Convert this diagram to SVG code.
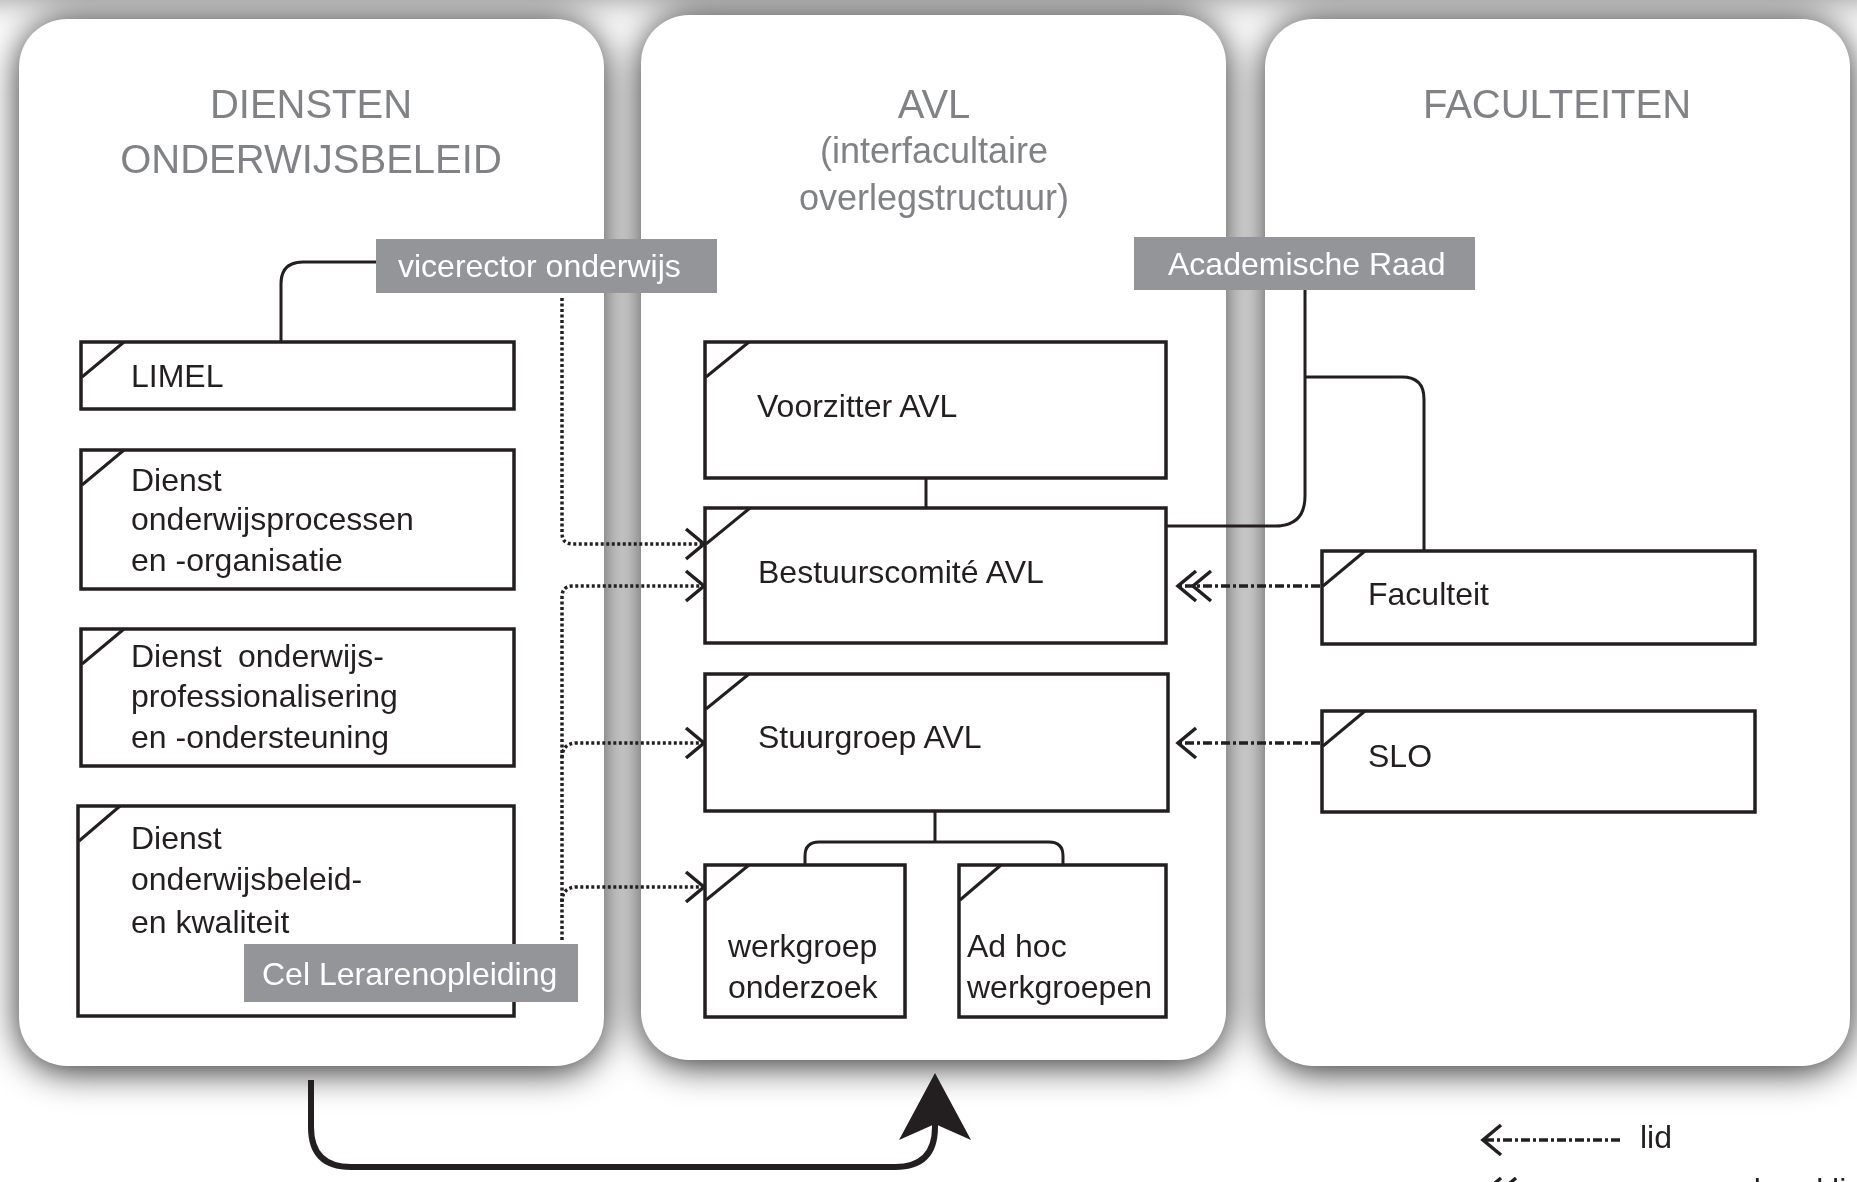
<svg xmlns="http://www.w3.org/2000/svg" width="1857" height="1182" viewBox="0 0 1857 1182">
<defs>
<filter id="sh" x="-20%" y="-20%" width="140%" height="140%">
<feGaussianBlur stdDeviation="18"/>
<feOffset dy="5"/>
</filter>
<marker id="chev" viewBox="-24 -18 28 36" refX="0" refY="0" markerWidth="28" markerHeight="36" markerUnits="userSpaceOnUse" orient="auto">
<path d="M -18 -15 L 0 0 L -18 15" fill="none" stroke="#231f20" stroke-width="3.5"/>
</marker>
<marker id="chev2" viewBox="-38 -18 42 36" refX="0" refY="0" markerWidth="42" markerHeight="36" markerUnits="userSpaceOnUse" orient="auto">
<path d="M -18 -15 L 0 0 L -18 15 M -33 -15 L -15 0 L -33 15" fill="none" stroke="#231f20" stroke-width="3.5"/>
</marker>
<style>
.panel{fill:#fff}
.shadow{fill:#000;opacity:.85}
.title{font-family:"Liberation Sans",Arial,sans-serif;fill:#808285;text-anchor:middle}
.box{fill:#fff;stroke:#231f20;stroke-width:3.5}
.tick{stroke:#231f20;stroke-width:3;fill:none}
.t{font-family:"Liberation Sans",Arial,sans-serif;font-size:32px;fill:#231f20}
.lab{fill:#939598}
.labt{font-family:"Liberation Sans",Arial,sans-serif;font-size:32px;fill:#fff}
.solid{fill:none;stroke:#231f20;stroke-width:3}
.dot{fill:none;stroke:#231f20;stroke-width:3.5;stroke-dasharray:3 2.5}
.dash{fill:none;stroke:#231f20;stroke-width:3.5;stroke-dasharray:9 3 3 3}
</style>
</defs>
<rect x="0" y="0" width="1857" height="1182" fill="#fff"/>
<g id="shadows" filter="url(#sh)">
<rect class="shadow" x="19" y="17" width="585" height="1049" rx="50"/>
<rect class="shadow" x="641" y="13" width="585" height="1047" rx="50"/>
<rect class="shadow" x="1265" y="17" width="585" height="1049" rx="50"/>
<rect class="shadow" x="-60" y="-60" width="2000" height="52" style="opacity:.5"/>
</g>
<g id="panel-diensten">
<rect class="panel" x="19" y="19" width="585" height="1047" rx="48"/>
<text class="title" font-size="40" x="311" y="118">DIENSTEN</text>
<text class="title" font-size="40" x="311" y="173">ONDERWIJSBELEID</text>
</g>
<g id="panel-avl">
<rect class="panel" x="641" y="15" width="585" height="1045" rx="48"/>
<text class="title" font-size="40" x="934" y="118">AVL</text>
<text class="title" font-size="36" x="934" y="163">(interfacultaire</text>
<text class="title" font-size="36" x="934" y="210">overlegstructuur)</text>
</g>
<g id="panel-faculteiten">
<rect class="panel" x="1265" y="19" width="585" height="1047" rx="48"/>
<text class="title" font-size="40" x="1557" y="118">FACULTEITEN</text>
</g>
<g id="connectors">
<path class="solid" d="M 377 262 H 303 Q 281 262 281 284 V 341"/>
<path class="solid" d="M 1305 290 V 496 Q 1305 526 1275 526 H 1166"/>
<path class="solid" d="M 1305 377 H 1402 Q 1424 377 1424 399 V 550"/>
<path class="solid" d="M 926 478 V 507"/>
<path class="solid" d="M 935 811 V 842 M 805 864 V 856 Q 805 842 819 842 H 1049 Q 1063 842 1063 856 V 864"/>
<path class="dot" d="M 562 298 V 533 Q 562 544 573 544 H 704" marker-end="url(#chev)"/>
<path class="dot" d="M 562 940 V 597 Q 562 586 573 586 H 704" marker-end="url(#chev)"/>
<path class="dot" d="M 562 758 Q 562 743 577 743 H 704" marker-end="url(#chev)"/>
<path class="dot" d="M 562 902 Q 562 887 577 887 H 704" marker-end="url(#chev)"/>
<path class="dash" d="M 1320 586 H 1178" marker-end="url(#chev2)"/>
<path class="dash" d="M 1320 743 H 1178" marker-end="url(#chev)"/>
<path d="M 311 1080 V 1127 Q 311 1167 351 1167 H 895 Q 935 1167 935 1127 V 1124" fill="none" stroke="#231f20" stroke-width="6"/>
<path d="M 935 1073 L 971 1140 L 935 1124 L 899 1140 Z" fill="#231f20"/>
</g>
<g id="vicerector">
<rect class="lab" x="376" y="239" width="341" height="54"/>
<text class="labt" x="398" y="277">vicerector onderwijs</text>
</g>
<g id="academische-raad">
<rect class="lab" x="1134" y="237" width="341" height="53"/>
<text class="labt" x="1168" y="275">Academische Raad</text>
</g>
<g id="limel">
<rect class="box" x="81" y="342" width="433" height="67"/>
<path class="tick" d="M 82 377 L 124 342"/>
<text class="t" x="131" y="387">LIMEL</text>
</g>
<g id="dienst-processen">
<rect class="box" x="81" y="450" width="433" height="139"/>
<path class="tick" d="M 82 485 L 124 450"/>
<text class="t" x="131" y="491">Dienst</text>
<text class="t" x="131" y="530">onderwijsprocessen</text>
<text class="t" x="131" y="571">en -organisatie</text>
</g>
<g id="dienst-professionalisering">
<rect class="box" x="81" y="629" width="433" height="137"/>
<path class="tick" d="M 82 664 L 124 629"/>
<text class="t" x="131" y="667">Dienst<tspan x="238">onderwijs-</tspan></text>
<text class="t" x="131" y="707">professionalisering</text>
<text class="t" x="131" y="748">en -ondersteuning</text>
</g>
<g id="dienst-kwaliteit">
<rect class="box" x="78" y="806" width="436" height="210"/>
<path class="tick" d="M 79 841 L 120 806"/>
<text class="t" x="131" y="849">Dienst</text>
<text class="t" x="131" y="890">onderwijsbeleid-</text>
<text class="t" x="131" y="933">en kwaliteit</text>
</g>
<g id="cel-lerarenopleiding">
<rect class="lab" x="244" y="944" width="334" height="58"/>
<text class="labt" x="262" y="985">Cel Lerarenopleiding</text>
</g>
<g id="voorzitter">
<rect class="box" x="705" y="342" width="461" height="136"/>
<path class="tick" d="M 706 377 L 749 342"/>
<text class="t" x="757" y="417">Voorzitter AVL</text>
</g>
<g id="bestuurscomite">
<rect class="box" x="705" y="508" width="461" height="135"/>
<path class="tick" d="M 706 544 L 750 508"/>
<text class="t" x="758" y="583">Bestuurscomité AVL</text>
</g>
<g id="stuurgroep">
<rect class="box" x="705" y="674" width="463" height="137"/>
<path class="tick" d="M 706 709 L 749 674"/>
<text class="t" x="758" y="748">Stuurgroep AVL</text>
</g>
<g id="werkgroep-onderzoek">
<rect class="box" x="705" y="865" width="200" height="152"/>
<path class="tick" d="M 706 900 L 749 865"/>
<text class="t" x="728" y="957">werkgroep</text>
<text class="t" x="728" y="998">onderzoek</text>
</g>
<g id="adhoc-werkgroepen">
<rect class="box" x="959" y="865" width="207" height="152"/>
<path class="tick" d="M 960 900 L 1001 865"/>
<text class="t" x="967" y="957">Ad hoc</text>
<text class="t" x="967" y="998">werkgroepen</text>
</g>
<g id="faculteit">
<rect class="box" x="1322" y="551" width="433" height="93"/>
<path class="tick" d="M 1323 586 L 1365 551"/>
<text class="t" x="1368" y="605">Faculteit</text>
</g>
<g id="slo">
<rect class="box" x="1322" y="711" width="433" height="101"/>
<path class="tick" d="M 1323 746 L 1365 711"/>
<text class="t" x="1368" y="767">SLO</text>
</g>
<g id="legend">
<path class="dash" d="M 1620 1140 H 1483" marker-end="url(#chev)"/>
<text class="t" x="1640" y="1148">lid</text>
<path class="dash" d="M 1620 1193 H 1483" marker-end="url(#chev2)"/>
<text class="t" x="1640" y="1201">meewerkend lid</text>
</g>
</svg>
